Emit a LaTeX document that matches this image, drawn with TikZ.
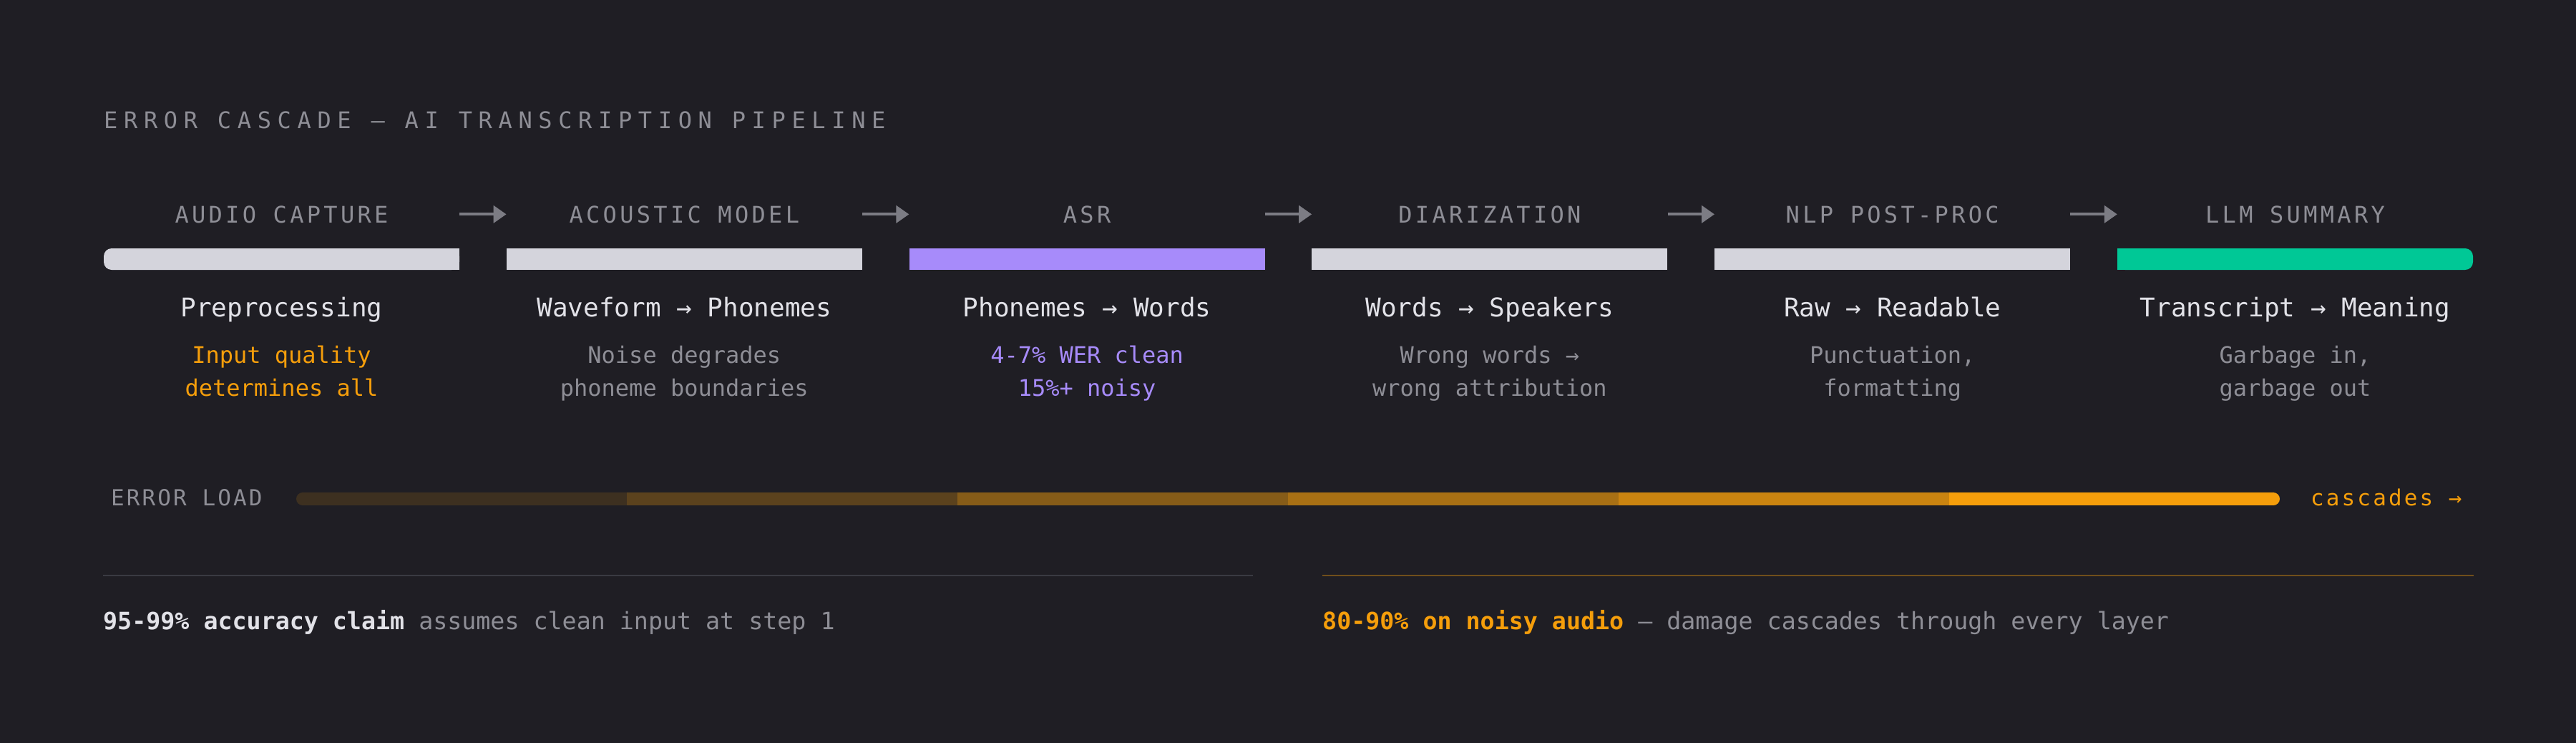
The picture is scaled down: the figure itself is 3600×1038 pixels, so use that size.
\documentclass[tikz,border=0pt]{standalone}
\usepackage{fontspec}
\setmainfont{DejaVu Sans Mono}
\newfontfamily\headingfont[LetterSpace=27]{DejaVu Sans Mono}
\newfontfamily\stagefont[LetterSpace=13.5]{DejaVu Sans Mono}
\newfontfamily\loadfont[LetterSpace=10]{DejaVu Sans Mono}
\usetikzlibrary{arrows.meta}

\definecolor{bgcol}{HTML}{1F1E24}
\definecolor{barlight}{HTML}{D4D4DC}
\definecolor{asrpurple}{HTML}{A78BFA}
\definecolor{llmgreen}{HTML}{00C896}
\definecolor{errorange}{HTML}{F59E0B}
\definecolor{mutegrey}{HTML}{8E8E96}
\definecolor{textlight}{HTML}{E2E2E8}
\definecolor{rulegrey}{HTML}{3A3A42}
\definecolor{arrowgrey}{HTML}{7C7C84}

\begin{document}
\begin{tikzpicture}[x=1pt, y=-1pt,
  heading/.style={font={\headingfont\fontsize{32}{38}\selectfont}, text=mutegrey, inner sep=0pt, anchor=base west},
  stagelabel/.style={font={\stagefont\fontsize{32}{38}\selectfont}, text=mutegrey, inner sep=0pt, minimum width=497pt, anchor=base},
  stepname/.style={font={\fontsize{36}{42}\selectfont}, text=textlight, inner sep=0pt, anchor=base},
  stepnote/.style={font={\fontsize{32}{46}\selectfont}, text=mutegrey, inner sep=0pt, anchor=base, align=center},
  loadlabel/.style={font={\loadfont\fontsize{31}{38}\selectfont}, text=mutegrey, inner sep=0pt, anchor=base west},
  claim/.style={font={\fontsize{33.3}{40}\selectfont}, text=mutegrey, inner sep=0pt, anchor=base west},
  flow/.style={draw=arrowgrey, line width=4pt, -{Triangle[length=18pt,width=24pt]}}]

\useasboundingbox (0,0) rectangle (3600,1038);
\fill[bgcol] (0,0) rectangle (3600,1038);

\draw(145,179) node[heading] (title) {ERROR CASCADE — AI TRANSCRIPTION PIPELINE};

\draw(393.5,311) node[stagelabel] (lab1) {AUDIO CAPTURE};
\draw(956.3,311) node[stagelabel] (lab2) {ACOUSTIC MODEL};
\draw(1519.1,311) node[stagelabel] (lab3) {ASR};
\draw(2081.9,311) node[stagelabel] (lab4) {DIARIZATION};
\draw(2644.7,311) node[stagelabel] (lab5) {NLP POST-PROC};
\draw(3207.5,311) node[stagelabel] (lab6) {LLM SUMMARY};

\draw[flow] (lab1.east) -- (lab2.west);
\draw[flow] (lab2.east) -- (lab3.west);
\draw[flow] (lab3.east) -- (lab4.west);
\draw[flow] (lab4.east) -- (lab5.west);
\draw[flow] (lab5.east) -- (lab6.west);

\fill[barlight, rounded corners=11pt] (145,347) rectangle (642,377);
\fill[barlight] (200,347) rectangle (642,377);
\fill[barlight] (707.8,347) rectangle (1204.8,377);
\fill[asrpurple] (1270.6,347) rectangle (1767.6,377);
\fill[barlight] (1833.4,347) rectangle (2330.4,377);
\fill[barlight] (2396.2,347) rectangle (2893.2,377);
\fill[llmgreen, rounded corners=11pt] (2959,347) rectangle (3456,377);
\fill[llmgreen] (2959,347) rectangle (3400,377);

\draw(393.5,442) node[stepname] (step1) {Preprocessing};
\draw(956.3,442) node[stepname] (step2) {Waveform → Phonemes};
\draw(1519.1,442) node[stepname] (step3) {Phonemes → Words};
\draw(2081.9,442) node[stepname] (step4) {Words → Speakers};
\draw(2644.7,442) node[stepname] (step5) {Raw → Readable};
\draw(3207.5,442) node[stepname] (step6) {Transcript → Meaning};

\draw(393.5,553) node[stepnote, text=errorange] (note1) {Input quality\\determines all};
\draw(956.3,553) node[stepnote] (note2) {Noise degrades\\phoneme boundaries};
\draw(1519.1,553) node[stepnote, text=asrpurple] (note3) {4-7\% WER clean\\15\%+ noisy};
\draw(2081.9,553) node[stepnote] (note4) {Wrong words →\\wrong attribution};
\draw(2644.7,553) node[stepnote] (note5) {Punctuation,\\formatting};
\draw(3207.5,553) node[stepnote] (note6) {Garbage in,\\garbage out};

\draw(155,706) node[loadlabel] (load) {ERROR LOAD};
\begin{scope}
\clip[rounded corners=9pt] (414,688) rectangle (3186,706);
\fill[errorange!14!bgcol] (414,688) rectangle (876,706);
\fill[errorange!28!bgcol] (876,688) rectangle (1338,706);
\fill[errorange!48!bgcol] (1338,688) rectangle (1800,706);
\fill[errorange!64!bgcol] (1800,688) rectangle (2262,706);
\fill[errorange!80!bgcol] (2262,688) rectangle (2724,706);
\fill[errorange] (2724,688) rectangle (3186,706);
\end{scope}
\draw(3229,706) node[loadlabel, text=errorange] (cascade) {cascades →};

\draw[rulegrey, line width=2.5pt] (144,804) -- (1751,804);
\draw[errorange!38!bgcol, line width=2.5pt] (1848,804) -- (3457,804);

\draw(144,879) node[claim] (claimclean) {{\bfseries\color{textlight}95-99\% accuracy claim} assumes clean input at step 1};
\draw(1848,879) node[claim] (claimnoisy) {{\bfseries\color{errorange}80-90\% on noisy audio} — damage cascades through every layer};

\end{tikzpicture}
\end{document}
